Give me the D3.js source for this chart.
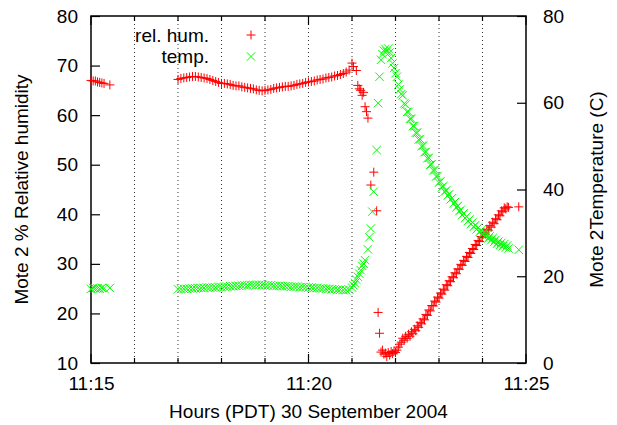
<!DOCTYPE html>
<html>
<head>
<meta charset="utf-8">
<script src="https://cdn.jsdelivr.net/npm/d3@7"></script>
<style>
  html, body { margin: 0; padding: 0; background: #fff; }
  svg { display: block; }
  text { font-family: "Liberation Sans", Arial, Helvetica, sans-serif; fill: #000; }
</style>
</head>
<body>
<svg id="chart" width="617" height="425"></svg>
<script>
// ---- DATA (seconds after 11:15:00 on 30 September 2004) ----
const seconds = [
  0, 3, 6, 9, 12, 15, 18, 26,
  120, 124, 128, 132, 136, 140, 144, 148, 152, 156, 160, 164, 168, 172, 176, 180,
  184, 188, 192, 196, 200, 204, 208, 212, 216, 220, 224, 228, 232, 236, 240, 244,
  248, 252, 256, 260, 264, 268, 272, 276, 280, 284, 288, 292, 296, 300, 304, 308,
  312, 316, 320, 324, 328, 332, 336, 340, 344, 348, 352, 356, 360,
  362, 364, 366, 368, 370, 372, 374, 376, 378, 380, 382, 384, 386, 388, 390, 392,
  394, 396, 398, 400, 402, 404, 406, 408, 410, 412, 414, 416, 418, 420, 422, 424, 426,
  428, 432, 436, 440, 444, 448, 452, 456, 460, 464, 468, 472, 476, 480, 484, 488,
  492, 496, 500, 504, 508, 512, 516, 520, 524, 528, 532, 536, 540, 544, 548, 552,
  556, 560, 564, 568, 572, 576, 590,
  430, 434, 438, 442, 446, 450, 454, 458, 462, 466, 470, 474, 478, 482, 486, 490,
  494, 498, 502, 506, 510, 514, 518, 522, 526, 530, 534, 538, 542, 546, 550, 554,
  558, 562, 566, 570, 574
];
// Mote 2 % relative humidity (left axis)
const relHum = [
  67.0, 66.9, 66.9, 66.7, 66.6, 66.5, 66.4, 66.1,
  67.2, 67.4, 67.5, 67.6, 67.7, 67.8, 67.8, 67.7, 67.6, 67.5, 67.4, 67.2, 67.0, 66.8, 66.6, 66.4,
  66.4, 66.3, 66.2, 66.0, 65.9, 65.9, 65.7, 65.6, 65.5, 65.4, 65.3, 65.1, 65.0, 64.9, 65.0, 65.1,
  65.2, 65.4, 65.5, 65.6, 65.7, 65.8, 65.8, 65.9, 66.0, 66.2, 66.3, 66.4, 66.6, 66.7, 66.8, 66.9,
  67.1, 67.2, 67.3, 67.5, 67.6, 67.7, 67.9, 68.0, 68.2, 68.4, 68.7, 69.1, 70.5,
  69.8, null, 69.0, 66.0, 65.3, 65.0, 64.0, 64.6, 61.7, 60.7, 59.4, null, 45.9, null, 48.5, null,
  40.7, 20.2, 16.0, 12.2, 12.6, 11.8, 12.0, 11.3, 12.1, 11.6, 12.3, 11.9, 12.4, 12.1, 12.6, 13.2, 13.8,
  14.2, 14.6, 15.0, 15.4, 15.9, 16.5, 17.2, 17.9, 18.7, 19.6, 20.5, 21.5, 22.3, 23.1, 23.9, 24.7,
  25.6, 26.4, 27.2, 28.0, 28.9, 29.7, 30.5, 31.3, 32.1, 32.9, 33.7, 34.5, 35.3, 36.0, 36.8, 37.4,
  38.1, 38.9, 39.7, 40.5, 41.1, 41.4, 41.5,
  15.0, 15.4, 15.8, 16.3, 16.8, 17.5, 18.2, 18.9, 19.8, 20.7, 21.6, 22.5, 23.3, 24.1, 24.9, 25.8,
  26.6, 27.4, 28.2, 29.0, 29.9, 30.7, 31.5, 32.3, 33.1, 33.9, 34.7, 35.5, 36.2, 37.0, 37.7, 38.4,
  39.1, 39.9, 40.7, 41.3, 41.5
];
// Mote 2 temperature in C (right axis)
const tempC = [
  17.1, 17.3, 17.2, 17.2, 17.1, 17.3, 17.2, 17.3,
  17.0, 17.0, 17.1, 17.1, 17.2, 17.2, 17.2, 17.3, 17.3, 17.3, 17.4, 17.4, 17.4, 17.4, 17.5, 17.5,
  17.6, 17.6, 17.7, 17.7, 17.8, 17.8, 17.9, 17.9, 17.9, 18.0, 18.0, 18.0, 18.0, 18.0, 17.9, 17.9,
  17.9, 17.8, 17.8, 17.8, 17.7, 17.7, 17.7, 17.6, 17.6, 17.6, 17.5, 17.5, 17.5, 17.4, 17.4, 17.3,
  17.3, 17.2, 17.2, 17.1, 17.1, 17.0, 17.0, 16.9, 16.9, 16.8, 16.8, 16.9, 17.4,
  17.9, 18.4, 19.2, 19.9, 20.6, 21.4, 22.4, 22.9, 23.7, null, 26.2, 29.0, 31.0, 34.9, 39.5, null,
  49.1, 59.9, 66.0, 69.9, 71.2, 72.0, 72.4, 71.8, 72.5, 71.6, 70.3, 69.1, 68.0, 66.8, 66.0, 64.2, 63.1,
  62.0, 59.8, 57.9, 56.3, 54.6, 53.1, 51.5, 50.0, 48.6, 47.2, 45.7, 44.4, 43.0, 41.6, 40.5, 39.5,
  38.6, 37.7, 36.8, 35.9, 35.0, 34.1, 33.4, 32.7, 32.0, 31.4, 30.8, 30.2, 29.7, 29.2, 28.7, 28.3,
  27.9, 27.5, 27.2, 26.9, 26.6, 26.4, 26.1,
  61.7, 59.6, 57.9, 56.3, 54.6, 53.1, 51.6, 50.1, 48.7, 47.3, 45.8, 44.5, 43.1, 41.9, 40.8, 39.8,
  38.9, 38.0, 37.1, 36.2, 35.3, 34.5, 33.8, 33.1, 32.4, 31.8, 31.2, 30.6, 30.1, 29.6, 29.2, 28.8,
  28.4, 28.0, 27.7, 27.4, 27.1
];
const leftTicks = [10, 20, 30, 40, 50, 60, 70, 80];
const rightTicks = [0, 20, 40, 60, 80];
const minuteMarks = [15, 16, 17, 18, 19, 20, 21, 22, 23, 24, 25];
const labeledMinutes = [15, 20, 25];
const seriesNames = ["rel. hum.", "temp."];
const seriesColors = ["#ff0000", "#00ff00"];

// ---- LAYOUT ----
const L = 91, R = 526, T = 16, B = 363;
const svg = d3.select("#chart");
const t0 = new Date(2004, 8, 30, 11, 15, 0);
const toDate = s => new Date(t0.getTime() + s * 1000);
const atMinute = m => new Date(2004, 8, 30, 11, m, 0);

const x = d3.scaleTime().domain([atMinute(15), atMinute(25)]).range([L, R]);
const yL = d3.scaleLinear().domain([10, 80]).range([B, T]);
const yR = d3.scaleLinear().domain([0, 80]).range([B, T]);

// grid (dotted vertical lines at each minute)
svg.append("g").selectAll("line")
  .data(minuteMarks.filter(m => m > 15 && m < 25))
  .join("line")
  .attr("x1", m => x(atMinute(m))).attr("x2", m => x(atMinute(m)))
  .attr("y1", T).attr("y2", B)
  .attr("stroke", "#333").attr("stroke-width", 1)
  .attr("stroke-dasharray", "1,3");

// minor/major ticks top & bottom
const tickG = svg.append("g");
minuteMarks.forEach(m => {
  const len = (m % 5 === 0) ? 9 : 5;
  const xx = x(atMinute(m));
  tickG.append("line").attr("x1", xx).attr("x2", xx).attr("y1", B).attr("y2", B - len)
    .attr("stroke", "#000").attr("stroke-width", 1.2);
  tickG.append("line").attr("x1", xx).attr("x2", xx).attr("y1", T).attr("y2", T + len)
    .attr("stroke", "#000").attr("stroke-width", 1.2);
});

// axes
const fs = "19px";
const axL = svg.append("g").attr("transform", `translate(${L},0)`)
  .call(d3.axisLeft(yL).tickValues(leftTicks).tickSize(-9).tickPadding(13).tickFormat(d3.format("d")));
const axR = svg.append("g").attr("transform", `translate(${R},0)`)
  .call(d3.axisRight(yR).tickValues(rightTicks).tickSize(-9).tickPadding(17).tickFormat(d3.format("d")));
const axB = svg.append("g").attr("transform", `translate(0,${B})`)
  .call(d3.axisBottom(x).tickValues(labeledMinutes.map(atMinute)).tickSize(0).tickPadding(14)
    .tickFormat(d3.timeFormat("%H:%M")));
[axL, axR, axB].forEach(g => {
  g.select(".domain").remove();
  g.selectAll("text").style("font-size", fs).style("font-family", '"Liberation Sans", Arial, sans-serif');
  g.selectAll(".tick line").attr("stroke-width", 1.2);
});

// frame
svg.append("rect").attr("x", L).attr("y", T).attr("width", R - L).attr("height", B - T)
  .attr("fill", "none").attr("stroke", "#000").attr("stroke-width", 1.5);

// axis titles
svg.append("text").attr("x", (L + R) / 2).attr("y", 418).attr("text-anchor", "middle")
  .style("font-size", fs).text("Hours (PDT) 30 September 2004");
svg.append("text").attr("transform", `translate(28,${(T + B) / 2}) rotate(-90)`)
  .attr("text-anchor", "middle").style("font-size", fs).text("Mote 2 % Relative humidity");
svg.append("text").attr("transform", `translate(603,${(T + B) / 2}) rotate(-90)`)
  .attr("text-anchor", "middle").style("font-size", fs).text("Mote 2Temperature (C)");

// markers
const plusPath = "M-4.5,0H4.5M0,-4.5V4.5";
const crossPath = "M-4.2,-4.2L4.2,4.2M-4.2,4.2L4.2,-4.2";

const humPts = seconds.map((s, i) => ({ t: toDate(s), v: relHum[i] })).filter(d => d.v !== null);
const tempPts = seconds.map((s, i) => ({ t: toDate(s), v: tempC[i] })).filter(d => d.v !== null);

svg.append("g").selectAll("path").data(humPts).join("path")
  .attr("d", plusPath)
  .attr("transform", d => `translate(${x(d.t)},${yL(d.v)})`)
  .attr("fill", "none").attr("stroke", seriesColors[0]).attr("stroke-width", 1);

svg.append("g").selectAll("path").data(tempPts).join("path")
  .attr("d", crossPath)
  .attr("transform", d => `translate(${x(d.t)},${yR(d.v)})`)
  .attr("fill", "none").attr("stroke", seriesColors[1]).attr("stroke-width", 1);

// legend
const legY = [35, 56.5];
const legG = svg.append("g");
seriesNames.forEach((name, i) => {
  legG.append("text").attr("x", 209).attr("y", legY[i]).attr("dy", "0.35em")
    .attr("text-anchor", "end").style("font-size", fs).text(name);
  legG.append("path").attr("d", i === 0 ? plusPath : crossPath)
    .attr("transform", `translate(251,${legY[i]})`)
    .attr("fill", "none").attr("stroke", seriesColors[i]).attr("stroke-width", 1);
});
</script>
</body>
</html>
